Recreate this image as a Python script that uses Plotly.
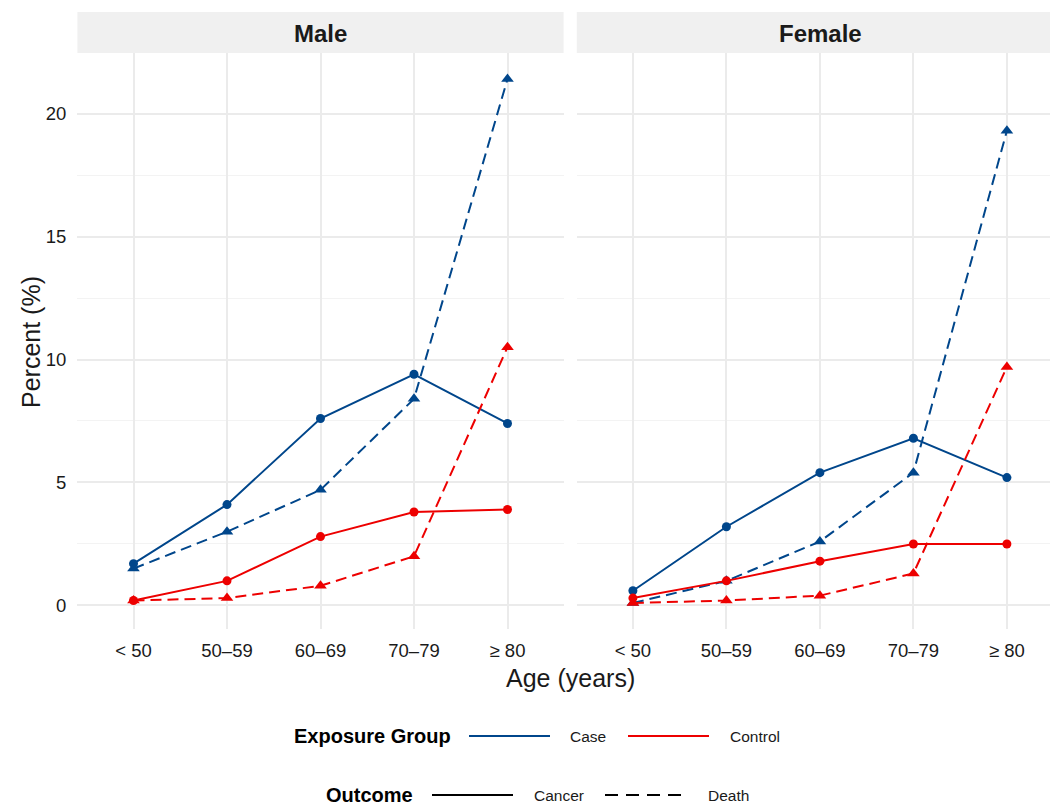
import plotly.graph_objects as go

# ---- data -------------------------------------------------------------
age_groups = ["< 50", "50\u201359", "60\u201369", "70\u201379", "\u2265 80"]
sexes = ["Male", "Female"]

male_case_cancer = [1.7, 4.1, 7.6, 9.4, 7.4]
male_case_death = [1.5, 3.0, 4.7, 8.4, 21.4]
male_control_cancer = [0.2, 1.0, 2.8, 3.8, 3.9]
male_control_death = [0.2, 0.3, 0.8, 2.0, 10.5]

female_case_cancer = [0.6, 3.2, 5.4, 6.8, 5.2]
female_case_death = [0.1, 1.0, 2.6, 5.4, 19.3]
female_control_cancer = [0.3, 1.0, 1.8, 2.5, 2.5]
female_control_death = [0.1, 0.2, 0.4, 1.3, 9.7]

y_ticks = [0, 5, 10, 15, 20]

# ---- styling ----------------------------------------------------------
W, H = 1050, 805
BLUE = "#00468B"
RED = "#ED0000"
GRID = "#EBEBEB"
GRID_MINOR = "#F3F3F3"
TXT = "#1A1A1A"
FONT = "Liberation Sans, Arial, sans-serif"

# panel geometry (pixels)
male_px = (77.4, 563.6)
female_px = (576.8, 1064.0)   # right part runs past the page edge
px_per_cat = (male_px[1] - male_px[0]) / 5.2
y_top_px, y_bot_px = 52.9, 629.2
y_range = [-0.965, 22.465]
strip_top_px = 12.0


def px_x(p):
    return p / W


def px_y(p):
    return 1 - p / H


fig = go.Figure()

panels = {
    "Male": ("x", "y", [
        (male_case_cancer, BLUE, "solid", "circle"),
        (male_case_death, BLUE, "dash", "triangle-up"),
        (male_control_cancer, RED, "solid", "circle"),
        (male_control_death, RED, "dash", "triangle-up"),
    ]),
    "Female": ("x2", "y2", [
        (female_case_cancer, BLUE, "solid", "circle"),
        (female_case_death, BLUE, "dash", "triangle-up"),
        (female_control_cancer, RED, "solid", "circle"),
        (female_control_death, RED, "dash", "triangle-up"),
    ]),
}

for sex, (xa, ya, series) in panels.items():
    for vals, col, dash, sym in series:
        fig.add_trace(go.Scatter(
            x=list(range(1, 6)), y=vals, xaxis=xa, yaxis=ya,
            mode="lines+markers",
            line=dict(color=col, width=2, dash="11px,6px" if dash == "dash" else "solid"),
            marker=dict(color=col, symbol=sym, size=9 if sym == "circle" else 11,
                        line=dict(width=0)),
            showlegend=False, hoverinfo="skip",
        ))

xcommon = dict(
    tickmode="array", tickvals=list(range(1, 6)), ticktext=age_groups,
    showgrid=True, gridcolor=GRID, gridwidth=2, zeroline=False,
    showline=False, ticks="", ticklabelstandoff=8,
    tickfont=dict(family=FONT, size=18.5, color=TXT),
)
ycommon = dict(
    range=y_range, domain=[px_y(y_bot_px), px_y(y_top_px)],
    tickmode="array", tickvals=y_ticks,
    showgrid=True, gridcolor=GRID, gridwidth=2, zeroline=False,
    showline=False, ticks="",
    minor=dict(tickvals=[2.5, 7.5, 12.5, 17.5], showgrid=True,
               gridcolor=GRID_MINOR, gridwidth=1),
)

fig.update_layout(
    width=W, height=H, margin=dict(l=0, r=0, t=0, b=0),
    paper_bgcolor="white", plot_bgcolor="white",
    font=dict(family=FONT, color=TXT),
    xaxis=dict(xcommon, domain=[px_x(male_px[0]), px_x(male_px[1])],
               range=[0.4, 5.6], anchor="y"),
    xaxis2=dict(xcommon, domain=[px_x(female_px[0]), 1.0],
                range=[0.4, 0.4 + (W - female_px[0]) / px_per_cat],
                anchor="y2"),
    yaxis=dict(ycommon, anchor="x", ticklabelstandoff=10,
               tickfont=dict(family=FONT, size=18.5, color=TXT)),
    yaxis2=dict(ycommon, anchor="x2", showticklabels=False),
    showlegend=False,
)

shapes = []
annotations = []


def label(x, y, text, size, color=TXT, angle=0):
    annotations.append(dict(xref="paper", yref="paper", x=px_x(x), y=px_y(y),
                            xanchor="center", yanchor="middle",
                            text=text, showarrow=False, textangle=angle,
                            font=dict(family=FONT, size=size, color=color)))


# facet strips
for sex, (x0, x1) in zip(sexes, [male_px, female_px]):
    shapes.append(dict(type="rect", xref="paper", yref="paper",
                       x0=px_x(x0), x1=px_x(min(x1, W)),
                       y0=px_y(y_top_px), y1=px_y(strip_top_px),
                       fillcolor="#F0F0F0", line=dict(width=0), layer="below"))
    label((x0 + x1) / 2, (strip_top_px + y_top_px) / 2 + 1, f"<b>{sex}</b>", 24)

# axis titles
label(570, 678, "Age (years)", 25)
label(31, 342, "Percent (%)", 25, angle=-90)

# legend rows: (title, title centre x, row y, [(x0, x1, colour, dash, label, label centre x)])
legend_rows = [
    ("Exposure Group", 372, 736, [
        (469, 550, BLUE, "solid", "Case", 588),
        (628, 709, RED, "solid", "Control", 755),
    ]),
    ("Outcome", 369, 795, [
        (432, 513, "black", "solid", "Cancer", 559),
        (605, 683, "black", "13px,8px", "Death", 728),
    ]),
]
for title, tx, ry, keys in legend_rows:
    label(tx, ry, f"<b>{title}</b>", 20, color="black")
    for x0, x1, col, dash, text, lx in keys:
        shapes.append(dict(type="line", xref="paper", yref="paper",
                           x0=px_x(x0), x1=px_x(x1), y0=px_y(ry), y1=px_y(ry),
                           line=dict(color=col, width=2, dash=dash)))
        label(lx, ry, text, 15.5)

fig.update_layout(shapes=shapes, annotations=annotations)

fig.write_html("out.html")
